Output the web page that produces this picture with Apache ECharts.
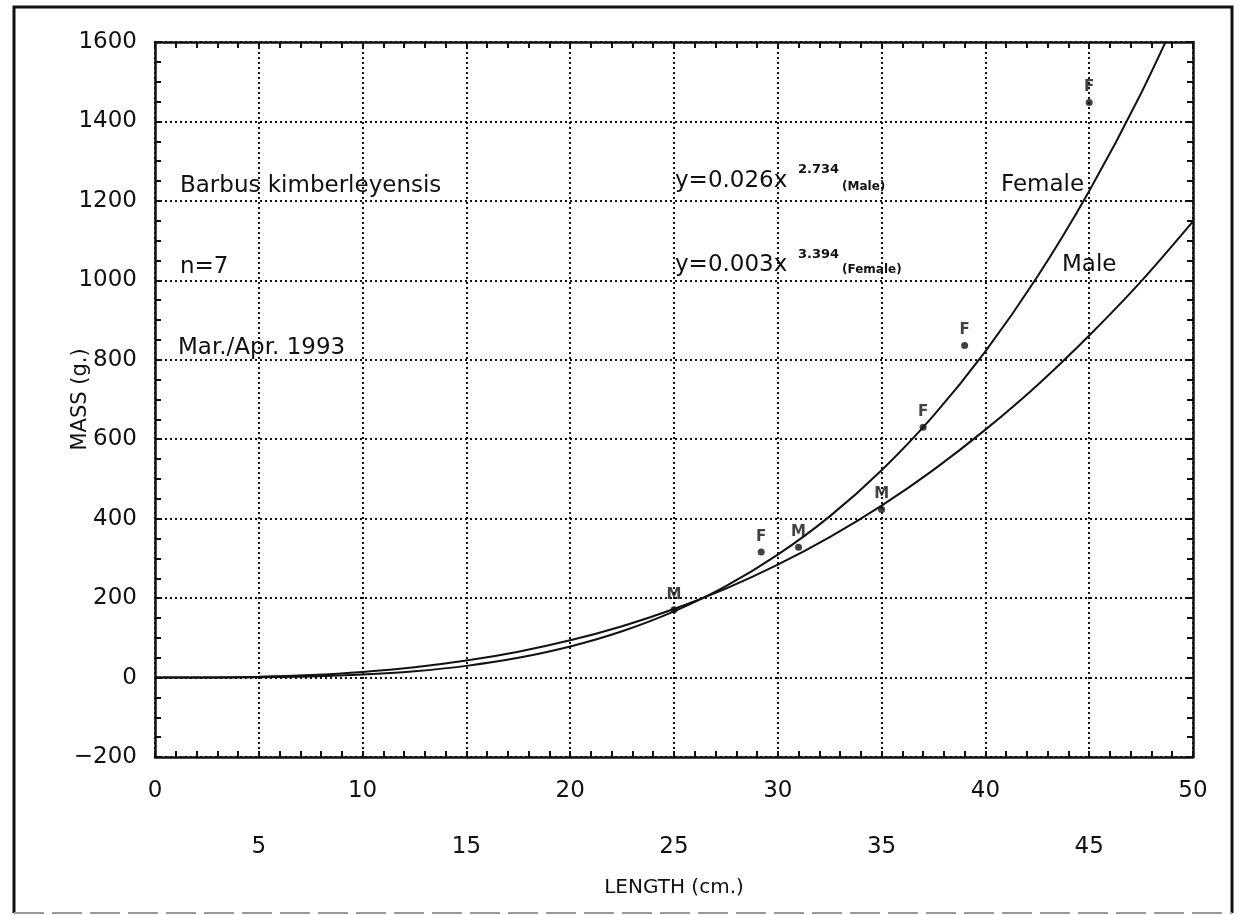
<!DOCTYPE html>
<html>
<head>
<meta charset="utf-8">
<title>Barbus kimberleyensis length-mass</title>
<script src="https://cdn.jsdelivr.net/npm/echarts@6/dist/echarts.min.js"></script>
<style>
  html, body { margin: 0; padding: 0; background: #fff; }
  #chart { width: 1237px; height: 915px; }
</style>
</head>
<body>
<div id="chart"></div>
<script>
// Measured fish: length (cm), mass (g) and sex
const pointLen  = [25, 29.2, 31, 35, 37, 39, 45];
const pointMass = [171, 316, 328, 423, 630, 836, 1448];
const pointSex  = ['M', 'F', 'M', 'M', 'F', 'F', 'F'];

// Fitted length-mass curves, sampled every 2.5 cm
const curveLen  = [0, 2.5, 5, 7.5, 10, 12.5, 15, 17.5, 20, 22.5, 25, 27.5, 30, 32.5, 35, 37.5, 40, 42.5, 45, 47.5, 50];
const maleFit   = [0, 0.3, 2.1, 6.4, 14.1, 25.9, 42.7, 65.1, 93.7, 129.3, 172.6, 223.9, 284.1, 353.6, 432.8, 522.9, 624.1, 736.1, 861.2, 997.5, 1148.6];
const femaleFit = [0, 0.1, 0.7, 2.8, 7.4, 15.8, 29.4, 49.6, 78.1, 116.5, 166.6, 230.2, 309.5, 405.8, 522.1, 659.6, 821.3, 1008.9, 1225.0, 1471.0, 1750.7];

// Axis ranges
const xMin = 0, xMax = 50, xStep = 5;
const yMin = -200, yMax = 1600, yStep = 200;

const FONT = '"DejaVu Sans", Verdana, sans-serif';
const INK = '#111';

const chart = echarts.init(document.getElementById('chart'), null, { renderer: 'canvas' });

const pair = (xs, ys) => xs.map((x, i) => [x, ys[i]]);

const tickStyle = { color: INK, width: 2 };
const frameLine = { show: true, onZero: false, lineStyle: { color: INK, width: 2.5 } };

// Mirror axes on top and right only carry the frame and inward ticks
const mirrorAxis = (extra) => Object.assign({
  type: 'value',
  axisLine: frameLine,
  axisTick: { show: true, inside: true, length: 6, lineStyle: tickStyle },
  axisLabel: { show: false },
  splitLine: { show: false }
}, extra);

// Plain text placed by its baseline (bottom of the text box sits ~0.25em under it)
const label = (text, x, baseline, size, weight) => ({
  type: 'text', silent: true,
  x: x, y: baseline + Math.round(size * 0.25),
  style: {
    text: text, fill: INK, verticalAlign: 'bottom',
    font: (weight || 'normal') + ' ' + size + 'px ' + FONT
  }
});

const option = {
  backgroundColor: '#fff',
  animation: false,
  grid: { left: 155, right: 44, top: 42, bottom: 158, containLabel: false },
  xAxis: [
    {
      type: 'value', min: xMin, max: xMax, interval: xStep, position: 'bottom',
      name: 'LENGTH (cm.)', nameLocation: 'middle', nameGap: 121, nameMoveOverlap: false,
      nameTextStyle: { fontFamily: FONT, fontSize: 20, color: INK },
      axisLine: frameLine,
      axisTick: { show: true, inside: true, length: 6, lineStyle: tickStyle },
      minorTick: { show: true, splitNumber: 5, length: 6, lineStyle: tickStyle },
      axisLabel: {
        fontFamily: FONT, fontSize: 23, color: INK, margin: 6, lineHeight: 56,
        formatter: v => (v % 10 === 0 ? String(v) : '\n' + v)
      },
      splitLine: { show: true, lineStyle: { color: INK, width: 2, type: [2, 3] } }
    },
    mirrorAxis({ min: xMin, max: xMax, interval: xStep, position: 'top',
      minorTick: { show: true, splitNumber: 5, length: 6, lineStyle: tickStyle } })
  ],
  yAxis: [
    {
      type: 'value', min: yMin, max: yMax, interval: yStep, position: 'left',
      name: 'MASS (g.)', nameLocation: 'middle', nameGap: 64, nameMoveOverlap: false,
      nameTextStyle: { fontFamily: FONT, fontSize: 21, color: INK },
      axisLine: frameLine,
      axisTick: { show: true, inside: true, length: 6, lineStyle: tickStyle },
      minorTick: { show: true, splitNumber: 4, length: 6, lineStyle: tickStyle },
      axisLabel: { fontFamily: FONT, fontSize: 23, color: INK, margin: 18,
        formatter: v => (v < 0 ? '\u2212' + Math.abs(v) : String(v)) },
      splitLine: { show: true, lineStyle: { color: INK, width: 2, type: [2, 3] } }
    },
    mirrorAxis({ min: yMin, max: yMax, interval: yStep, position: 'right',
      minorTick: { show: true, splitNumber: 4, length: 6, lineStyle: tickStyle } })
  ],
  series: [
    {
      name: 'Male fit', type: 'line', smooth: 0.3, showSymbol: false, clip: true,
      data: pair(curveLen, maleFit),
      lineStyle: { color: INK, width: 2 }, z: 3
    },
    {
      name: 'Female fit', type: 'line', smooth: 0.3, showSymbol: false, clip: true,
      data: pair(curveLen, femaleFit),
      lineStyle: { color: INK, width: 2 }, z: 3
    },
    {
      name: 'Fish', type: 'scatter', symbol: 'circle', symbolSize: 7,
      itemStyle: { color: INK },
      data: pointLen.map((x, i) => ({ value: [x, pointMass[i]], sex: pointSex[i] })),
      label: {
        show: true, position: 'top', distance: 4,
        formatter: p => p.data.sex,
        fontFamily: FONT, fontSize: 15, fontWeight: 'bold', color: INK
      },
      z: 4
    }
  ],
  graphic: [
    // outer frame: solid on three sides, faint along the bottom
    { type: 'polyline', silent: true, z: 0,
      shape: { points: [[14, 913], [14, 7], [1232, 7], [1232, 913]] },
      style: { fill: 'none', stroke: INK, lineWidth: 3 } },
    { type: 'line', silent: true, z: 0,
      shape: { x1: 14, y1: 913, x2: 1232, y2: 913 },
      style: { stroke: '#999', lineWidth: 2, lineDash: [30, 8] } },
    // sample description
    label('Barbus kimberleyensis', 180, 192, 23),
    label('n=7', 180, 273, 23),
    label('Mar./Apr. 1993', 178, 354, 23),
    // fitted equations
    label('y=0.026x', 675, 187, 23),
    label('2.734', 798, 173, 13, 'bold'),
    label('(Male)', 842, 190, 12, 'bold'),
    label('y=0.003x', 675, 271, 23),
    label('3.394', 798, 258, 13, 'bold'),
    label('(Female)', 842, 273, 12, 'bold'),
    // curve names
    label('Female', 1001, 191, 23),
    label('Male', 1062, 271, 23)
  ]
};

chart.setOption(option);
</script>
</body>
</html>
